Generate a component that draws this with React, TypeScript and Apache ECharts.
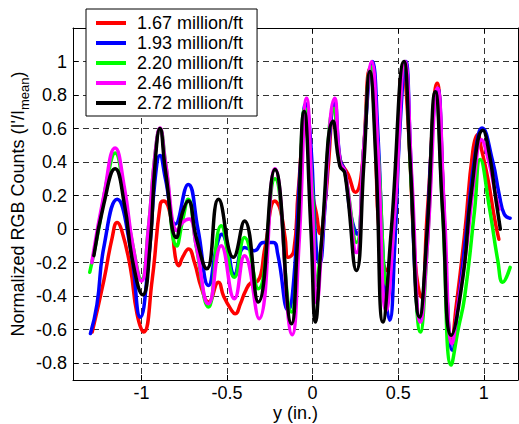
import React, { useEffect, useRef } from "react";
import * as echarts from "echarts";

const X_TICKS = [-1, -0.5, 0, 0.5, 1];
const Y_TICKS = [-0.8, -0.6, -0.4, -0.2, 0, 0.2, 0.4, 0.6, 0.8, 1];
const SERIES_NAMES = [
  "1.67 million/ft",
  "1.93 million/ft",
  "2.20 million/ft",
  "2.46 million/ft",
  "2.72 million/ft",
];
const COLORS = ["#ff0000", "#0000ff", "#00ff00", "#ff00ff", "#000000"];

const red167: [number, number][] = [
  [-1.288, -0.614], [-1.22, -0.307], [-1.171, -0.05], [-1.142, 0.039], [-1.115, -0.01],
  [-1.065, -0.228], [-1.026, -0.505], [-0.987, -0.614], [-0.938, -0.307], [-0.89, 0.148],
  [-0.871, 0.168], [-0.832, 0.089], [-0.802, -0.168], [-0.783, -0.218], [-0.76, -0.168],
  [-0.725, -0.119], [-0.69, -0.2], [-0.65, -0.35], [-0.608, -0.435], [-0.55, -0.317],
  [-0.52, -0.4], [-0.47, -0.49], [-0.453, -0.505], [-0.42, -0.44], [-0.395, -0.376],
  [-0.36, -0.32], [-0.32, -0.31], [-0.278, -0.109], [-0.22, 0.168], [-0.19, 0.12],
  [-0.161, -0.05], [-0.142, -0.168], [-0.11, -0.13], [-0.084, 0.227], [-0.045, 0.6],
  [0.003, 0.19], [0.023, 0.089], [0.043, -0.026], [0.072, 0.148], [0.091, 0.366],
  [0.125, 0.75], [0.16, 0.42], [0.208, 0.326], [0.25, 0.22], [0.285, 0.33],
  [0.335, 0.96], [0.36, 0.7], [0.392, -0.07], [0.437, -0.247], [0.47, -0.07],
  [0.53, 0.96], [0.56, 0.6], [0.6, -0.2], [0.635, -0.406], [0.67, 0.1],
  [0.728, 0.87], [0.76, 0.3], [0.79, -0.5], [0.81, -0.665], [0.84, -0.45],
  [0.888, -0.03], [0.936, 0.465], [0.965, 0.564], [0.985, 0.484], [1.023, 0.306],
  [1.062, 0.069], [1.088, -0.06],
];

const blue193: [number, number][] = [
  [-1.298, -0.623], [-1.26, -0.45], [-1.22, -0.109], [-1.142, 0.178], [-1.065, -0.109],
  [-1.006, -0.525], [-0.96, -0.2], [-0.92, 0.3], [-0.892, 0.44], [-0.86, 0.3],
  [-0.802, 0.03], [-0.727, 0.267], [-0.67, 0.0], [-0.608, -0.336], [-0.56, -0.1],
  [-0.53, -0.03], [-0.5, -0.1], [-0.457, -0.27], [-0.398, -0.109], [-0.34, -0.129],
  [-0.288, -0.079], [-0.23, -0.079], [-0.204, -0.148], [-0.142, -0.485], [-0.11, -0.3],
  [-0.07, 0.4], [-0.04, 0.75], [-0.01, 0.5], [0.02, -0.1], [0.04, -0.208],
  [0.07, 0.1], [0.095, 0.5], [0.128, 0.76], [0.16, 0.42], [0.19, 0.34],
  [0.22, 0.1], [0.26, -0.03], [0.3, 0.5], [0.35, 1.0], [0.38, 0.6],
  [0.42, -0.3], [0.45, -0.544], [0.48, -0.1], [0.51, 0.6], [0.545, 1.0],
  [0.57, 0.5], [0.6, -0.3], [0.625, -0.55], [0.66, -0.2], [0.7, 0.6],
  [0.73, 0.84], [0.76, 0.3], [0.79, -0.5], [0.815, -0.722], [0.85, -0.45],
  [0.9, 0.0], [0.95, 0.45], [0.99, 0.603], [1.052, 0.405], [1.09, 0.208],
  [1.12, 0.089], [1.154, 0.065],
];

const green220: [number, number][] = [
  [-1.302, -0.257], [-1.25, 0.0], [-1.2, 0.3], [-1.154, 0.455], [-1.1, 0.2],
  [-1.05, -0.1], [-1.0, -0.3], [-0.96, 0.0], [-0.92, 0.45], [-0.892, 0.6],
  [-0.86, 0.4], [-0.793, -0.1], [-0.76, 0.05], [-0.727, 0.178], [-0.68, -0.1],
  [-0.608, -0.465], [-0.534, 0.02], [-0.457, -0.287], [-0.398, -0.05], [-0.317, -0.356],
  [-0.22, 0.3], [-0.123, -0.495], [-0.09, -0.2], [-0.045, 0.72], [0.0, 0.2],
  [0.02, -0.336], [0.05, -0.1], [0.125, 0.72], [0.16, 0.4], [0.19, 0.33],
  [0.256, -0.079], [0.3, 0.5], [0.34, 0.97], [0.38, 0.5], [0.437, -0.336],
  [0.48, 0.1], [0.535, 0.97], [0.58, 0.2], [0.63, -0.613], [0.67, -0.1],
  [0.72, 0.8], [0.76, 0.1], [0.81, -0.811], [0.85, -0.6], [0.888, -0.406],
  [0.946, 0.109], [0.979, 0.415], [1.033, 0.128], [1.082, -0.188], [1.111, -0.317],
  [1.154, -0.228],
];

const magenta246: [number, number][] = [
  [-1.29, -0.2], [-1.22, 0.2], [-1.154, 0.484], [-1.1, 0.25], [-1.05, -0.1],
  [-1.0, -0.31], [-0.96, 0.0], [-0.92, 0.45], [-0.892, 0.603], [-0.86, 0.4],
  [-0.79, -0.01], [-0.76, 0.04], [-0.72, 0.06], [-0.68, -0.1], [-0.608, -0.445],
  [-0.534, -0.099], [-0.457, -0.415], [-0.398, -0.158], [-0.313, -0.534], [-0.22, 0.36],
  [-0.119, -0.63], [-0.08, -0.1], [-0.035, 0.781], [0.0, 0.1], [0.025, -0.44],
  [0.06, 0.0], [0.13, 0.781], [0.16, 0.4], [0.19, 0.34], [0.256, -0.14],
  [0.3, 0.5], [0.345, 1.0], [0.38, 0.5], [0.43, -0.485], [0.48, 0.1],
  [0.54, 1.0], [0.58, 0.3], [0.63, -0.554], [0.67, -0.1], [0.73, 0.84],
  [0.77, 0.1], [0.815, -0.683], [0.85, -0.45], [0.9, -0.1], [0.95, 0.35],
  [0.985, 0.534], [1.03, 0.4], [1.07, 0.2], [1.09, 0.12],
];

const black272: [number, number][] = [
  [-1.278, -0.158], [-1.22, 0.15], [-1.154, 0.36], [-1.1, 0.15], [-1.05, -0.2],
  [-0.993, -0.392], [-0.95, -0.1], [-0.92, 0.4], [-0.892, 0.6], [-0.86, 0.35],
  [-0.795, -0.05], [-0.76, 0.1], [-0.727, 0.168], [-0.68, -0.05], [-0.618, -0.237],
  [-0.55, 0.178], [-0.463, -0.168], [-0.398, 0.049], [-0.317, -0.435], [-0.22, 0.356],
  [-0.123, -0.564], [-0.09, -0.1], [-0.049, 0.702], [-0.01, 0.0], [0.017, -0.554],
  [0.05, -0.1], [0.12, 0.643], [0.159, 0.376], [0.188, 0.336], [0.256, -0.247],
  [0.3, 0.4], [0.334, 0.94], [0.37, 0.4], [0.411, -0.554], [0.46, 0.0],
  [0.534, 1.0], [0.57, 0.4], [0.625, -0.524], [0.67, 0.0], [0.717, 0.82],
  [0.76, 0.1], [0.81, -0.633], [0.878, -0.287], [0.926, 0.208], [0.995, 0.59],
  [1.033, 0.445], [1.072, 0.168], [1.097, 0.0],
];

const SERIES_DATA = [red167, blue193, green220, magenta246, black272];

const FONT = "'Liberation Sans', Arial, Helvetica, sans-serif";

export default function App() {
  const ref = useRef<HTMLDivElement>(null);
  useEffect(() => {
    if (!ref.current) return;
    const chart = echarts.init(ref.current, undefined, { renderer: "svg" });
    const axisCommon = {
      type: "value" as const,
      axisLine: { show: true, onZero: false, lineStyle: { color: "#000", width: 1 } },
    };
    const option: any = {
      animation: false,
      backgroundColor: "#fff",
      textStyle: { fontFamily: FONT },
      grid: { left: 73, right: 1, top: 28, bottom: 44, containLabel: false, outerBoundsMode: "none" },
      legend: {
        orient: "vertical",
        left: 86,
        top: 9,
        padding: [4, 14, 3, 10],
        itemGap: 0,
        itemWidth: 30,
        itemHeight: 4,
        icon: "rect",
        backgroundColor: "#fff",
        borderColor: "#000",
        borderWidth: 1,
        data: SERIES_NAMES,
        textStyle: { fontFamily: FONT, fontSize: 18, color: "#000", padding: [0, 0, 0, 6], lineHeight: 20 },
      },
      xAxis: [
        {
          ...axisCommon,
          position: "bottom",
          min: -1.4,
          max: 1.2,
          name: "y (in.)",
          nameLocation: "middle",
          nameGap: 24,
          nameMoveOverlap: false,
          nameTextStyle: { fontFamily: FONT, fontSize: 18, color: "#000", lineHeight: 18 },
          axisTick: { show: true, inside: true, length: 5, customValues: X_TICKS, lineStyle: { color: "#000" } },
          axisLabel: { show: true, customValues: X_TICKS, margin: 4, fontFamily: FONT, fontSize: 18, lineHeight: 18, color: "#000" },
          splitLine: { show: true, lineStyle: { color: "#333", type: [6, 4], width: 1 } },
        },
        {
          ...axisCommon,
          position: "top",
          min: -1.4,
          max: 1.2,
          axisTick: { show: true, inside: true, length: 5, customValues: X_TICKS, lineStyle: { color: "#000" } },
          axisLabel: { show: false },
          splitLine: { show: false },
        },
      ],
      yAxis: [
        {
          ...axisCommon,
          position: "left",
          min: -0.9,
          max: 1.2,
          name: "{n|Normalized RGB Counts (I'/I}{s|mean}{n|)}",
          nameLocation: "middle",
          nameRotate: 90,
          nameGap: 42,
          nameMoveOverlap: false,
          nameTextStyle: {
            fontFamily: FONT,
            color: "#000",
            rich: {
              n: { fontFamily: FONT, fontSize: 18, lineHeight: 26, color: "#000" },
              s: { fontFamily: FONT, fontSize: 13, lineHeight: 13, verticalAlign: "bottom", color: "#000" },
            },
          },
          axisTick: { show: true, inside: true, length: 5, customValues: Y_TICKS, lineStyle: { color: "#000" } },
          axisLabel: { show: true, customValues: Y_TICKS, margin: 6, fontFamily: FONT, fontSize: 18, color: "#000" },
          splitLine: { show: true, lineStyle: { color: "#333", type: [6, 4], width: 1 } },
        },
        {
          ...axisCommon,
          position: "right",
          min: -0.9,
          max: 1.2,
          axisTick: { show: true, inside: true, length: 5, customValues: Y_TICKS, lineStyle: { color: "#000" } },
          axisLabel: { show: false },
          splitLine: { show: false },
        },
      ],
      series: SERIES_DATA.map((d, i) => ({
        name: SERIES_NAMES[i],
        type: "line",
        xAxisIndex: 0,
        yAxisIndex: 0,
        data: d,
        symbol: "none",
        showSymbol: false,
        smooth: 0.5,
        color: COLORS[i],
        lineStyle: { color: COLORS[i], width: 3.5, join: "round", cap: "round" },
        clip: true,
      })),
    };
    chart.setOption(option);
    return () => chart.dispose();
  }, []);
  return (
    <div
      ref={ref}
      style={{ position: "fixed", left: 0, top: 0, width: 519, height: 424, background: "#fff" }}
    />
  );
}
